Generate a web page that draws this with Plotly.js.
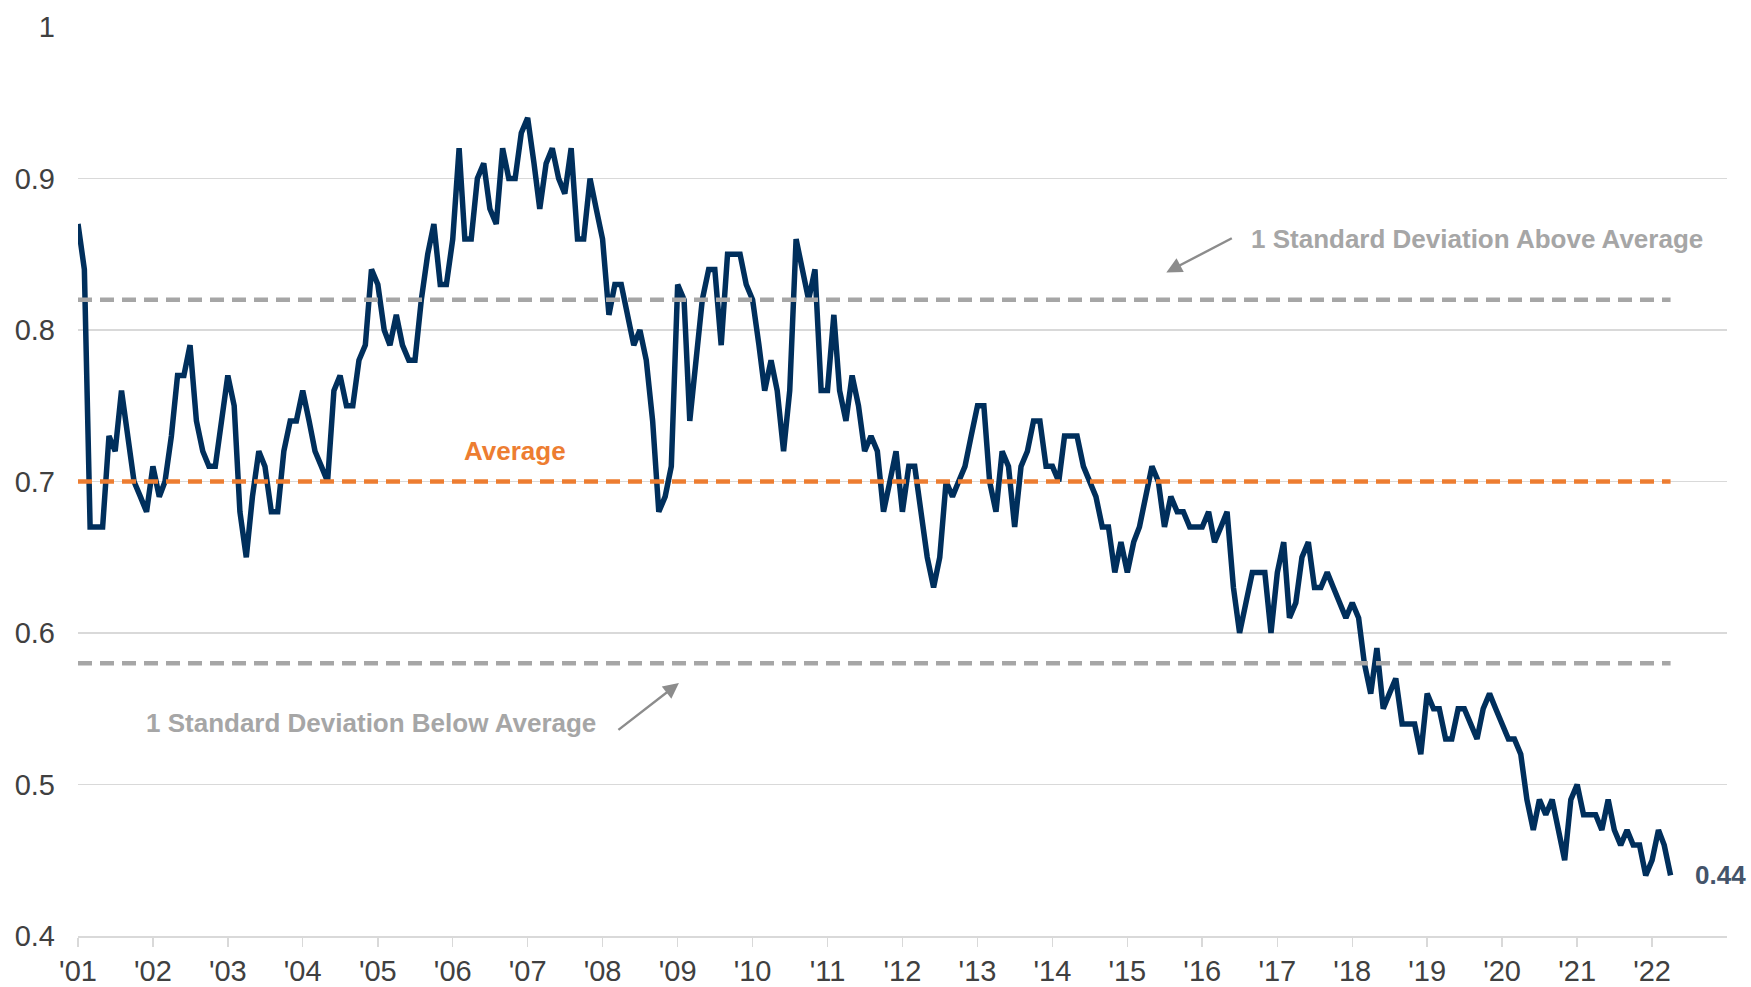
<!DOCTYPE html>
<html>
<head>
<meta charset="utf-8">
<script src="https://cdn.plot.ly/plotly-3.0.1.min.js"></script>
<style>
html,body{margin:0;padding:0;background:#fff;}
#chart{width:1751px;height:987px;}
</style>
</head>
<body>
<div id="chart"></div>
<script>
// Monthly series, Jan 2001 .. Apr 2022
const startYear = 2001;
const values = [
  0.87,0.84,0.67,0.67,0.67,0.73,0.72,0.76,0.73,0.70,0.69,0.68, // 2001
  0.71,0.69,0.70,0.73,0.77,0.77,0.79,0.74,0.72,0.71,0.71,0.74, // 2002
  0.77,0.75,0.68,0.65,0.69,0.72,0.71,0.68,0.68,0.72,0.74,0.74, // 2003
  0.76,0.74,0.72,0.71,0.70,0.76,0.77,0.75,0.75,0.78,0.79,0.84, // 2004
  0.83,0.80,0.79,0.81,0.79,0.78,0.78,0.82,0.85,0.87,0.83,0.83, // 2005
  0.86,0.92,0.86,0.86,0.90,0.91,0.88,0.87,0.92,0.90,0.90,0.93, // 2006
  0.94,0.91,0.88,0.91,0.92,0.90,0.89,0.92,0.86,0.86,0.90,0.88, // 2007
  0.86,0.81,0.83,0.83,0.81,0.79,0.80,0.78,0.74,0.68,0.69,0.71, // 2008
  0.83,0.82,0.74,0.78,0.82,0.84,0.84,0.79,0.85,0.85,0.85,0.83, // 2009
  0.82,0.79,0.76,0.78,0.76,0.72,0.76,0.86,0.84,0.82,0.84,0.76, // 2010
  0.76,0.81,0.76,0.74,0.77,0.75,0.72,0.73,0.72,0.68,0.70,0.72, // 2011
  0.68,0.71,0.71,0.68,0.65,0.63,0.65,0.70,0.69,0.70,0.71,0.73, // 2012
  0.75,0.75,0.70,0.68,0.72,0.71,0.67,0.71,0.72,0.74,0.74,0.71, // 2013
  0.71,0.70,0.73,0.73,0.73,0.71,0.70,0.69,0.67,0.67,0.64,0.66, // 2014
  0.64,0.66,0.67,0.69,0.71,0.70,0.67,0.69,0.68,0.68,0.67,0.67, // 2015
  0.67,0.68,0.66,0.67,0.68,0.63,0.60,0.62,0.64,0.64,0.64,0.60, // 2016
  0.64,0.66,0.61,0.62,0.65,0.66,0.63,0.63,0.64,0.63,0.62,0.61, // 2017
  0.62,0.61,0.58,0.56,0.59,0.55,0.56,0.57,0.54,0.54,0.54,0.52, // 2018
  0.56,0.55,0.55,0.53,0.53,0.55,0.55,0.54,0.53,0.55,0.56,0.55, // 2019
  0.54,0.53,0.53,0.52,0.49,0.47,0.49,0.48,0.49,0.47,0.45,0.49, // 2020
  0.50,0.48,0.48,0.48,0.47,0.49,0.47,0.46,0.47,0.46,0.46,0.44, // 2021
  0.45,0.47,0.46,0.44                                          // 2022
];
const averageLevel = 0.70;
const upperLevel = 0.82;
const lowerLevel = 0.58;
const yTicks = [0.4, 0.5, 0.6, 0.7, 0.8, 0.9, 1.0];
const yTickText = ['0.4','0.5','0.6','0.7','0.8','0.9','1'];
const xTickYears = [];
for (let y = 2001; y <= 2022; y++) xTickYears.push(y);
const xTickText = xTickYears.map(y => "'" + String(y).slice(2));
const lastLabel = '0.44';
const labels = {
  average: 'Average',
  above: '1 Standard Deviation Above Average',
  below: '1 Standard Deviation Below Average'
};

function pad(n){return (n<10?'0':'')+n;}
const dates = values.map((v,i) => {
  const yr = startYear + Math.floor(i/12);
  const mo = (i % 12) + 1;
  return yr + '-' + pad(mo) + '-01';
});
const firstDate = dates[0];
const lastDate = dates[dates.length-1];

const FONT = '"Liberation Sans Narrow", "Arial Narrow", "Liberation Sans", Arial, sans-serif';
const NAVY = '#002f5c';
const GRAY = '#a6a6a6';
const ORANGE = '#ed7d31';

const traces = [
  {x: dates, y: values, type: 'scatter', mode: 'lines',
   line: {color: NAVY, width: 5.5}, hoverinfo: 'skip'},
  {x: [firstDate, lastDate], y: [upperLevel, upperLevel], type: 'scatter', mode: 'lines',
   line: {color: GRAY, width: 4.5, dash: '14px,8px'}, hoverinfo: 'skip'},
  {x: [firstDate, lastDate], y: [lowerLevel, lowerLevel], type: 'scatter', mode: 'lines',
   line: {color: GRAY, width: 4.5, dash: '14px,8px'}, hoverinfo: 'skip'},
  {x: [firstDate, lastDate], y: [averageLevel, averageLevel], type: 'scatter', mode: 'lines',
   line: {color: ORANGE, width: 4.5, dash: '14px,8px'}, hoverinfo: 'skip'}
];

const layout = {
  width: 1751, height: 987,
  margin: {l: 78, r: 24, t: 27, b: 51},
  paper_bgcolor: '#ffffff', plot_bgcolor: '#ffffff',
  showlegend: false,
  font: {family: FONT, size: 29, color: '#404040'},
  xaxis: {
    type: 'date',
    range: ['2001-01-01', '2023-01-01'],
    tickvals: xTickYears.map(y => y + '-01-01'),
    ticktext: xTickText,
    showgrid: false,
    showline: true, linecolor: '#d9d9d9', linewidth: 1.5,
    ticks: 'outside', ticklen: 9, tickwidth: 1.5, tickcolor: '#d9d9d9',
    tickfont: {family: FONT, size: 29, color: '#404040'},
    zeroline: false,
    fixedrange: true
  },
  yaxis: {
    range: [0.4, 1.0],
    tickvals: yTicks, ticktext: yTickText,
    showgrid: true, gridcolor: '#d9d9d9', gridwidth: 1.5,
    showline: false, zeroline: false,
    ticks: '', ticklabelstandoff: 22,
    tickfont: {family: FONT, size: 29, color: '#404040'},
    fixedrange: true
  },
  annotations: [
    {x: '2006-11-01', y: averageLevel, yshift: 31, xref: 'x', yref: 'y',
     text: '<b>' + labels.average + '</b>', showarrow: false,
     font: {family: FONT, size: 26, color: ORANGE}, xanchor: 'center', yanchor: 'middle'},
    {x: '2019-09-01', y: upperLevel, yshift: 61, xref: 'x', yref: 'y',
     text: '<b>' + labels.above + '</b>', showarrow: false,
     font: {family: FONT, size: 26, color: GRAY}, xanchor: 'center', yanchor: 'middle'},
    {x: '2004-12-01', y: lowerLevel, yshift: -60, xref: 'x', yref: 'y',
     text: '<b>' + labels.below + '</b>', showarrow: false,
     font: {family: FONT, size: 26, color: GRAY}, xanchor: 'center', yanchor: 'middle'},
    {x: '2015-07-10', y: 0.838, xref: 'x', yref: 'y', text: '', showarrow: true,
     ax: 67, ay: -35, arrowhead: 2, arrowsize: 1.3, arrowwidth: 2.4, arrowcolor: '#8c8c8c'},
    {x: '2009-01-07', y: 0.567, xref: 'x', yref: 'y', text: '', showarrow: true,
     ax: -62, ay: 48, arrowhead: 2, arrowsize: 1.3, arrowwidth: 2.4, arrowcolor: '#8c8c8c'},
    {x: lastDate, y: values[values.length-1], xref: 'x', yref: 'y',
     text: '<b>' + lastLabel + '</b>', showarrow: false, xanchor: 'left', yanchor: 'middle',
     xshift: 22, font: {family: FONT, size: 26, color: '#44546a'}}
  ]
};

Plotly.newPlot('chart', traces, layout, {staticPlot: true, displayModeBar: false});
</script>
</body>
</html>
